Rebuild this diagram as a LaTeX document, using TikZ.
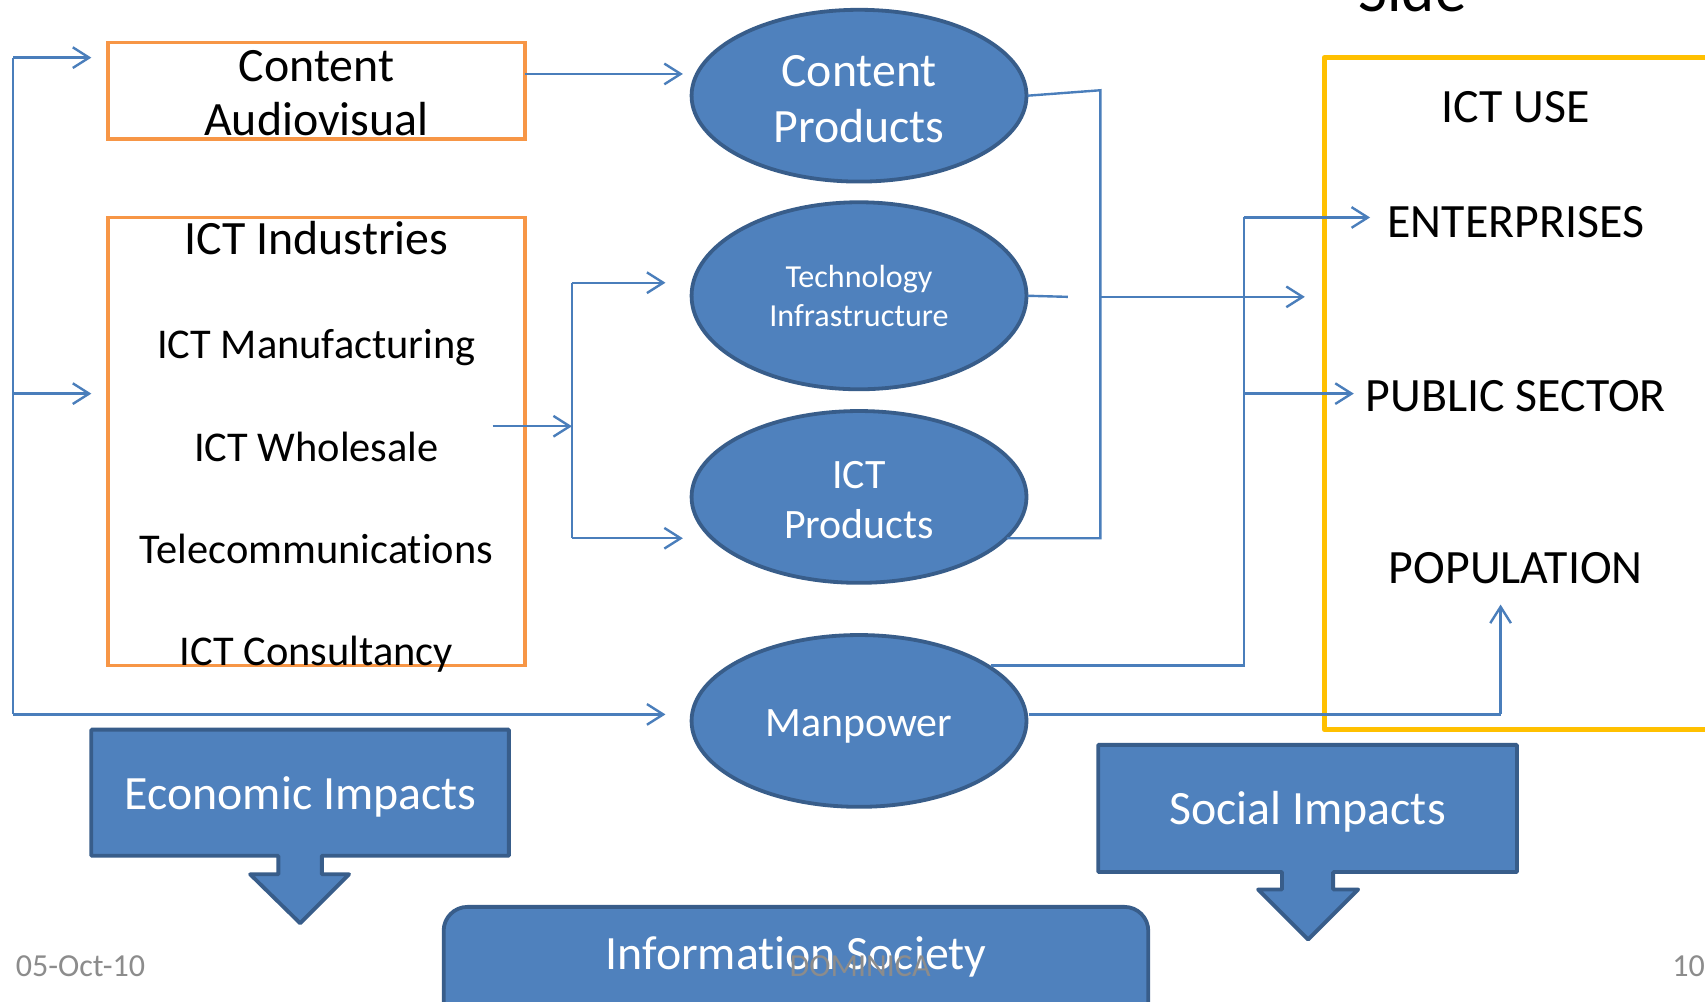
\documentclass[tikz,border=0pt]{standalone}
\usepackage{fontspec}
\setmainfont{Carlito}[Ligatures=NoCommon]
\usetikzlibrary{shapes.geometric,arrows.meta}
\definecolor{fillb}{HTML}{4F81BD}
\definecolor{strokeb}{HTML}{385D8A}
\definecolor{connc}{HTML}{4A7EBB}
\definecolor{orng}{HTML}{F79646}
\definecolor{yel}{HTML}{FFC000}
\definecolor{footc}{HTML}{8C8C8C}
\newcommand\myfs[1]{\fontsize{#1}{#1}\selectfont}
\begin{document}
\begin{tikzpicture}[x=1pt,y=-1pt,
  bubble/.style={ellipse, draw=strokeb, fill=fillb, line width=3.5pt, minimum width=308pt, inner sep=0pt},
  obox/.style={rectangle, draw=orng, line width=3.5pt, inner sep=0pt},
  callout/.style={draw=strokeb, fill=fillb, line width=3.5pt, line join=round},
  link/.style={draw=connc, line width=2.2pt},
  arr/.style={link, -{Straight Barb[length=15pt,width=19pt,line width=2.2pt]}},
  lbl/.style={anchor=base, inner sep=0pt},
  blk/.style={lbl, text=black},
  wht/.style={lbl, text=white},
  foot/.style={lbl, text=footc, font=\myfs{29.5}}
]
\useasboundingbox (0,0) rectangle (1568,921);
\clip (0,0) rectangle (1568,921);
\fill[white] (0,0) rectangle (1568,921);

% partial title at top
\node[blk, font=\myfs{58}] (side) at (1299,11) {Side};

% orange boxes
\node[obox, minimum width=384pt, minimum height=89pt] (ca) at (291,83.5) {};
\node[obox, minimum width=384pt, minimum height=412pt] (ii) at (291,406) {};

% ellipses
\node[bubble, minimum height=158pt] (cp) at (790,88) {};
\node[bubble, minimum height=172pt] (ti) at (790,272) {};
\node[bubble, minimum height=158pt] (ip) at (790,457) {};
\node[bubble, minimum height=158pt] (mp) at (790,663) {};

% right box
\draw[yel, line width=5pt, line join=round] (1600,53) -- (1218,53) -- (1218,671) -- (1600,671);

% coordinates
\coordinate (L1) at (12,53);
\coordinate (L2) at (12,362);
\coordinate (L3) at (12,657);
\coordinate (caT) at (84,53);
\coordinate (iiT) at (84,362);
\coordinate (mpT) at (612,657);
\coordinate (caS) at (483,68);
\coordinate (cpT) at (628,68);
\coordinate (iiS) at (453,392);
\coordinate (J1) at (526,392);
\coordinate (J1a) at (526,260);
\coordinate (J1b) at (526,495);
\coordinate (tiT) at (612,260);
\coordinate (ipT) at (628,495);
\coordinate (cpS) at (945,88);
\coordinate (J2a) at (1012,83);
\coordinate (J2m) at (1012,273);
\coordinate (J2b) at (1012,495);
\coordinate (tiS) at (945,272);
\coordinate (tiE) at (982,273);
\coordinate (ipS) at (926,495);
\coordinate (useT) at (1200,273);
\coordinate (mpS) at (911,612);
\coordinate (J3b) at (1144,612);
\coordinate (J3a) at (1144,200);
\coordinate (J3m) at (1144,362);
\coordinate (entT) at (1260,200);
\coordinate (pubT) at (1245,362);
\coordinate (mpS2) at (946,657);
\coordinate (J4) at (1380,657);
\coordinate (popT) at (1380,556);

% connectors
\draw[link] (L1) -- (L3);
\draw[arr] (L1) -- (caT);
\draw[arr] (L2) -- (iiT);
\draw[arr] (L3) -- (mpT);
\draw[arr] (caS) -- (cpT);
\draw[arr] (iiS) -- (J1);
\draw[link] (J1a) -- (J1b);
\draw[arr] (J1a) -- (tiT);
\draw[arr] (J1b) -- (ipT);
\draw[link] (cpS) -- (J2a) -- (J2b) -- (ipS);
\draw[link] (tiS) -- (tiE);
\draw[arr] (J2m) -- (useT);
\draw[link] (mpS) -- (J3b) -- (J3a);
\draw[arr] (J3a) -- (entT);
\draw[arr] (J3m) -- (pubT);
\draw[link] (mpS2) -- (J4);
\draw[arr] (J4) -- (popT);

% texts in orange boxes
\node[blk, font=\myfs{44}] (t1) at (291,75) {Content};
\node[blk, font=\myfs{44}] (t2) at (291,125) {Audiovisual};
\node[blk, font=\myfs{44}] (t3) at (291,234) {ICT Industries};
\node[blk, font=\myfs{39}] (t4) at (291,330) {ICT Manufacturing};
\node[blk, font=\myfs{39}] (t5) at (291,424) {ICT Wholesale};
\node[blk, font=\myfs{39}] (t6) at (291,518) {Telecommunications};
\node[blk, font=\myfs{39}] (t7) at (291,612) {ICT Consultancy};

% ellipse texts
\node[wht, font=\myfs{44}] (e1) at (790,80) {Content};
\node[wht, font=\myfs{44}] (e2) at (790,131) {Products};
\node[wht, font=\myfs{29.5}] (e3) at (790,264) {Technology};
\node[wht, font=\myfs{29.5}] (e4) at (790,300) {Infrastructure};
\node[wht, font=\myfs{38.5}] (e5) at (790,449) {ICT};
\node[wht, font=\myfs{38.5}] (e6) at (790,495) {Products};
\node[wht, font=\myfs{38.5}] (e7) at (790,677) {Manpower};

% right box texts
\node[blk, font=\myfs{44}] (r1) at (1394,113) {ICT USE};
\node[blk, font=\myfs{44}] (r2) at (1394,218) {ENTERPRISES};
\node[blk, font=\myfs{44}] (r3) at (1394,378) {PUBLIC SECTOR};
\node[blk, font=\myfs{44}] (r4) at (1394,537) {POPULATION};

% callouts
\draw[callout] (84,671) -- (468,671) -- (468,787) -- (296,787) -- (296,804) -- (321,804) -- (276,849) -- (230,804) -- (256,804) -- (256,787) -- (84,787) -- cycle;
\node[wht, font=\myfs{44}] (econ) at (276.5,744) {Economic Impacts};
\draw[callout] (1010,685) -- (1395,685) -- (1395,802) -- (1226,802) -- (1226,818) -- (1249,818) -- (1203,864) -- (1157,818) -- (1179,818) -- (1179,802) -- (1010,802) -- cycle;
\node[wht, font=\myfs{44}] (soc) at (1202.5,758) {Social Impacts};

% information society
\draw[callout, rounded corners=22pt] (408,834) rectangle (1056,980);
\node[wht, font=\myfs{44}] (info) at (732,892) {Information Society};

% footer
\node[foot] (date) at (74,898) {05-Oct-10};
\node[foot] (dom) at (791,898) {DOMINICA};
\node[foot] (pg) at (1553,898) {10};
\end{tikzpicture}
\end{document}
